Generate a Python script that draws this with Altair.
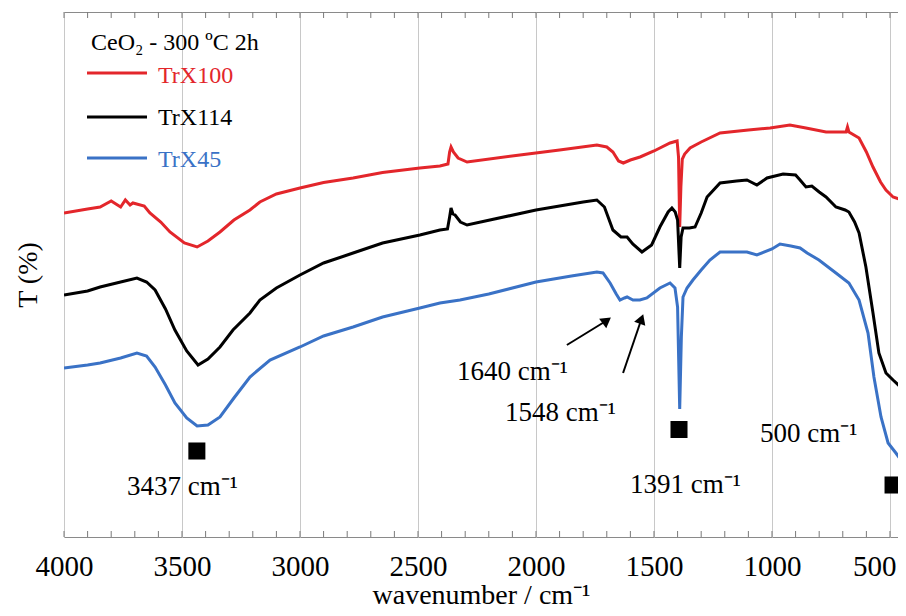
import altair as alt
import pandas as pd

# ---------------- data ----------------
SERIES = ["TrX100", "TrX114", "TrX45"]
COLORS = ["#e3262b", "#000000", "#3a72c6"]

TRX100_WN = [4000, 3900, 3847, 3800, 3760, 3740, 3720, 3708, 3660, 3636, 3590, 3551, 3490, 3436,
             3390, 3339, 3280, 3212, 3170, 3100, 3000, 2900, 2775, 2650, 2492, 2407, 2373, 2366,
             2360, 2350, 2330, 2292, 2068, 1900, 1742, 1700, 1674, 1650, 1630, 1600, 1559, 1500,
             1432, 1402, 1396, 1391, 1386, 1380, 1370, 1347, 1300, 1220, 1100, 1008, 924, 856,
             771, 686, 680, 674, 631, 600, 572, 540, 517, 487, 460, 432]
TRX100_T = [64.8, 65.6, 66.0, 67.2, 66.0, 67.4, 66.4, 66.8, 66.2, 64.8, 63.0, 61.0, 58.8, 58.0,
            59.2, 61.0, 63.4, 65.4, 67.0, 68.6, 69.8, 70.9, 71.8, 72.9, 73.8, 74.2, 74.6, 77.0,
            78.0, 77.0, 75.8, 75.0, 76.4, 77.4, 78.4, 78.0, 77.0, 75.2, 74.8, 75.4, 76.0, 77.2,
            78.8, 79.2, 76.0, 62.0, 70.0, 75.6, 76.6, 77.8, 79.0, 80.8, 81.4, 81.8, 82.4, 81.8,
            81.0, 81.0, 82.0, 81.0, 79.8, 77.0, 74.0, 71.0, 69.4, 68.0, 67.6, 67.4]

TRX114_WN = [4000, 3900, 3847, 3760, 3691, 3650, 3614, 3570, 3530, 3480, 3432, 3390, 3339, 3284,
             3212, 3170, 3100, 3000, 2900, 2775, 2650, 2492, 2407, 2375, 2366, 2360, 2352, 2343,
             2320, 2292, 2000, 1800, 1742, 1710, 1674, 1640, 1614, 1590, 1551, 1510, 1475, 1440,
             1424, 1410, 1400, 1391, 1385, 1377, 1350, 1326, 1300, 1275, 1220, 1150, 1106, 1064,
             1021, 953, 900, 881, 856, 831, 800, 771, 729, 690, 674, 650, 631, 602, 572, 547,
             517, 487, 460, 445, 432]
TRX114_T = [48.4, 49.2, 50.0, 51.0, 51.8, 51.0, 49.4, 45.6, 41.4, 37.2, 34.4, 35.6, 38.0, 41.4,
            44.8, 47.4, 49.8, 52.4, 54.8, 56.8, 58.8, 60.4, 61.4, 61.6, 64.0, 65.8, 64.6, 64.4,
            63.0, 62.4, 65.4, 67.0, 67.4, 66.0, 61.4, 60.0, 60.0, 58.6, 57.0, 58.4, 62.0, 65.0,
            65.8, 65.0, 63.4, 53.8, 60.0, 61.8, 61.8, 62.0, 64.8, 68.0, 70.8, 71.2, 71.4, 70.4,
            71.8, 72.6, 72.4, 71.4, 70.0, 70.2, 69.0, 68.0, 66.0, 65.4, 65.0, 63.0, 60.8, 54.0,
            44.8, 36.8, 32.8, 31.4, 30.2, 29.4, 28.4]

TRX45_WN = [4000, 3900, 3847, 3760, 3691, 3650, 3614, 3570, 3530, 3480, 3436, 3390, 3339, 3280,
            3212, 3127, 3000, 2900, 2775, 2650, 2492, 2407, 2322, 2200, 2000, 1850, 1742, 1716,
            1686, 1660, 1644, 1625, 1614, 1589, 1560, 1530, 1475, 1432, 1411, 1400, 1391, 1384,
            1377, 1360, 1335, 1300, 1263, 1220, 1106, 1064, 1000, 966, 920, 881, 851, 801, 729,
            674, 631, 593, 568, 538, 508, 475, 432]
TRX45_T = [33.8, 34.4, 34.8, 35.8, 36.8, 36.2, 34.0, 30.4, 26.8, 23.8, 22.2, 22.4, 24.0, 27.8,
           32.0, 35.4, 38.0, 40.2, 42.0, 44.0, 45.8, 46.8, 47.4, 48.6, 51.0, 52.2, 53.0, 52.8,
           50.8, 48.6, 47.4, 47.8, 48.0, 47.4, 47.4, 47.8, 49.8, 50.8, 49.8, 46.0, 25.6, 40.0,
           48.0, 49.8, 51.4, 53.4, 55.4, 57.0, 57.0, 56.4, 57.6, 58.6, 58.2, 57.8, 56.8, 55.4,
           52.8, 50.8, 47.4, 40.8, 32.0, 24.0, 18.8, 16.8, 14.0]

# band markers (black squares)
MARK_WN = [3437, 1394, 487]
MARK_T = [17.2, 21.5, 10.4]

# annotation labels
ANN_TEXT = ["3437 cm\u207b\u00b9", "1640 cm\u207b\u00b9", "1548 cm\u207b\u00b9",
            "1391 cm\u207b\u00b9", "500 cm\u207b\u00b9"]
ANN_WN = [3733, 2335, 2131, 1602, 1051]
ANN_T = [8.4, 31.4, 23.2, 8.8, 19.0]

# arrows: tail -> head
ARROW_WN_TAIL = [1869, 1631]
ARROW_T_TAIL = [38.4, 32.8]
ARROW_WN_HEAD = [1700, 1553]
ARROW_T_HEAD = [43.3, 43.6]
ARROW_ANGLE = [53, 20]

X_TICKS = [4000, 3500, 3000, 2500, 2000, 1500, 1000, 500]
MINOR_TICKS = [4000, 3900, 3800, 3700, 3600, 3500, 3400, 3300, 3200, 3100, 3000, 2900, 2800,
               2700, 2600, 2500, 2400, 2300, 2200, 2100, 2000, 1900, 1800, 1700, 1600, 1500,
               1400, 1300, 1200, 1100, 1000, 900, 800, 700, 600, 500]

LEGEND_TITLE = "CeO\u2082 - 300 \u00baC 2h"
FONT = "Liberation Serif"

# ---------------- build ----------------
W, H = 834, 525
Y_MAX = 105
TICK_LEN = 1.2  # in T units (~6 px)
X_SCALE = alt.Scale(domain=[4000, 466], nice=False, zero=False)
Y_SCALE = alt.Scale(domain=[0, Y_MAX], nice=False, zero=False)
C_SCALE = alt.Scale(domain=SERIES, range=COLORS)

rows = []
for name, wn, t in [(SERIES[0], TRX100_WN, TRX100_T),
                    (SERIES[1], TRX114_WN, TRX114_T),
                    (SERIES[2], TRX45_WN, TRX45_T)]:
    for i, (a, b) in enumerate(zip(wn, t)):
        rows.append({"series": name, "wn": a, "T": b, "i": i})
spec_df = pd.DataFrame(rows)

X_AXIS = dict(values=X_TICKS, format="d", grid=True, gridColor="#c8c8c8", gridWidth=1,
              domain=False, ticks=False, labelFont=FONT, labelFontSize=29,
              labelColor="black", labelPadding=15, labelFlush=False, labelOverlap=False,
              labelAlign={"condition": {"test": "datum.value == 500", "value": "right"},
                          "value": "center"},
              labelOffset={"condition": {"test": "datum.value == 500", "value": 6},
                           "value": 0},
              title="wavenumber / cm\u207b\u00b9", titleFont=FONT, titleFontSize=28,
              titleFontWeight="normal", titleColor="black", titlePadding=0)
Y_AXIS = dict(labels=False, ticks=False, grid=False, domain=False, title="T (%)",
              titleFont=FONT, titleFontSize=28, titleFontWeight="normal",
              titleColor="black", titlePadding=22)


def X(field):
    return alt.X(field, scale=X_SCALE, axis=alt.Axis(**X_AXIS))


def Y(field):
    return alt.Y(field, scale=Y_SCALE, axis=alt.Axis(**Y_AXIS))


lines = alt.Chart(spec_df).mark_line(strokeWidth=3, clip=True).encode(
    x=X("wn:Q"),
    y=Y("T:Q"),
    color=alt.Color("series:N", scale=C_SCALE, legend=None),
    order="i:Q",
    detail="series:N",
)

# minor ticks, drawn inward from the top and bottom frame
tick_df = pd.DataFrame({"tw": MINOR_TICKS})
tick_df["top"] = Y_MAX
tick_df["top2"] = Y_MAX - TICK_LEN
tick_df["bot"] = 0.0
tick_df["bot2"] = TICK_LEN
ticks_top = alt.Chart(tick_df).mark_rule(color="#7a7a7a", strokeWidth=1).encode(
    x=X("tw:Q"), y=Y("top:Q"), y2="top2:Q")
ticks_bot = alt.Chart(tick_df).mark_rule(color="#7a7a7a", strokeWidth=1).encode(
    x=X("tw:Q"), y=Y("bot:Q"), y2="bot2:Q")

marks = alt.Chart(pd.DataFrame({"wn": MARK_WN, "T": MARK_T})).mark_square(
    size=290, color="black", opacity=1, filled=True, clip=True).encode(
    x=X("wn:Q"), y=Y("T:Q"))

ann = alt.Chart(pd.DataFrame({"wn": ANN_WN, "T": ANN_T, "label": ANN_TEXT})).mark_text(
    align="left", baseline="alphabetic", font=FONT, fontSize=27, color="black").encode(
    x=X("wn:Q"), y=Y("T:Q"), text="label:N")

arrow_df = pd.DataFrame({"wn": ARROW_WN_TAIL, "T": ARROW_T_TAIL, "wn2": ARROW_WN_HEAD,
                         "T2": ARROW_T_HEAD, "ang": ARROW_ANGLE})
arrow_lines = alt.Chart(arrow_df).mark_rule(color="black", strokeWidth=2).encode(
    x=X("wn:Q"), y=Y("T:Q"), x2="wn2:Q", y2="T2:Q")
arrow_heads = alt.Chart(arrow_df).mark_point(shape="triangle-up", filled=True, color="black",
                                              size=140, opacity=1).encode(
    x=X("wn2:Q"), y=Y("T2:Q"), angle=alt.Angle("ang:Q", scale=None))

legend_layers = [
    alt.Chart(pd.DataFrame({"t": [LEGEND_TITLE]})).mark_text(
        align="left", baseline="alphabetic", font=FONT, fontSize=24, color="black").encode(
        x=alt.value(27), y=alt.value(38), text="t:N")
]
LEG_LINE_Y = [61, 105, 146]
LEG_TEXT_Y = [71, 113, 155]
for i, s in enumerate(SERIES):
    d = pd.DataFrame({"series": [s]})
    legend_layers.append(alt.Chart(d).mark_rule(strokeWidth=3).encode(
        x=alt.value(23), x2=alt.value(83), y=alt.value(LEG_LINE_Y[i]),
        color=alt.Color("series:N", scale=C_SCALE, legend=None)))
    legend_layers.append(alt.Chart(d).mark_text(
        align="left", baseline="alphabetic", font=FONT, fontSize=24).encode(
        x=alt.value(94), y=alt.value(LEG_TEXT_Y[i]), text="series:N",
        color=alt.Color("series:N", scale=C_SCALE, legend=None)))

chart = alt.layer(lines, ticks_top, ticks_bot, marks, arrow_lines, arrow_heads, ann,
                  *legend_layers).properties(
    width=W, height=H,
    padding={"left": 56, "top": 4, "right": 0, "bottom": 71},
    autosize=alt.AutoSizeParams(type="none"),
).configure_view(stroke="#8a8a8a", strokeWidth=1)

chart.save("out.html", embed_options={"renderer": "svg", "actions": False})
